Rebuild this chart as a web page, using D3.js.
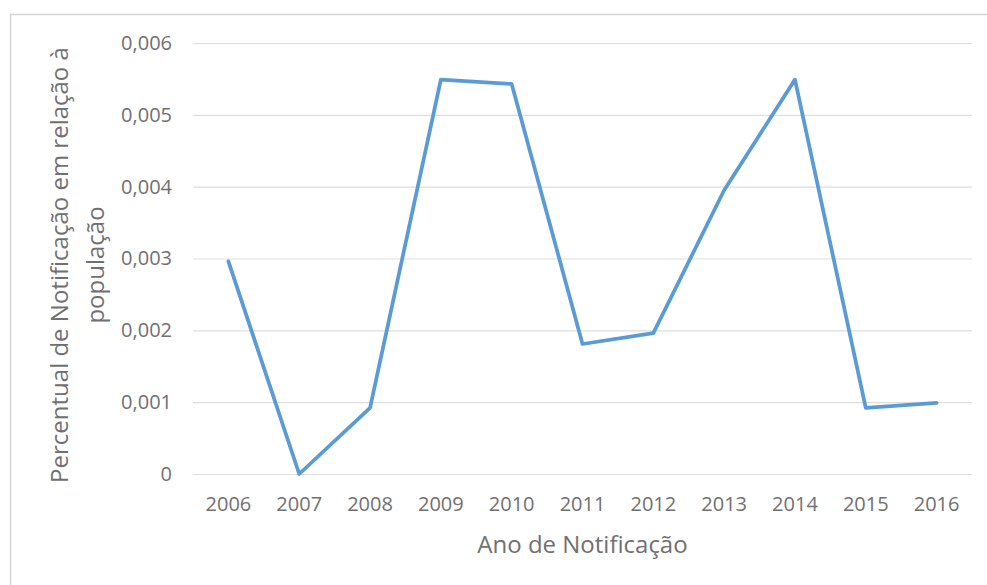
<!DOCTYPE html>
<html>
<head>
<meta charset="utf-8">
<script src="https://cdn.jsdelivr.net/npm/d3@7"></script>
<style>
  html, body { margin: 0; padding: 0; background: #fff; }
  svg { display: block; font-family: "Open Sans", "Noto Sans", sans-serif; }
</style>
</head>
<body>
<svg id="chart" width="987" height="585"></svg>
<script>
// Notification rate relative to population, by year
const years = ["2006", "2007", "2008", "2009", "2010", "2011", "2012", "2013", "2014", "2015", "2016"];
const values = [0.00296, 0.0, 0.00092, 0.00549, 0.00543, 0.00181, 0.00196, 0.00395, 0.00549, 0.00092, 0.00099];
const yTicks = [0, 0.001, 0.002, 0.003, 0.004, 0.005, 0.006];

const svg = d3.select("#chart");
const W = 987, H = 585;
const plot = { left: 193, right: 972, top: 43, bottom: 474 };
const textColor = "#707070";

// chart area frame
svg.append("rect")
  .attr("x", 10.5).attr("y", 14.5)
  .attr("width", W + 10).attr("height", H + 10)
  .attr("fill", "#fff").attr("stroke", "#d4d4d4").attr("stroke-width", 1.5);

const x = d3.scaleBand().domain(years).range([plot.left, plot.right]).padding(0);
const y = d3.scaleLinear().domain([0, 0.006]).range([plot.bottom, plot.top]);

const fmt = v => v === 0 ? "0" : d3.format(".3f")(v).replace(".", ",");

// horizontal gridlines + y labels
const yAxis = d3.axisLeft(y).tickValues(yTicks).tickFormat(fmt)
  .tickSize(-(plot.right - plot.left)).tickPadding(21);
const gy = svg.append("g").attr("transform", `translate(${plot.left},0)`).call(yAxis);
gy.select(".domain").remove();
gy.selectAll(".tick line").attr("stroke", "#dddddd").attr("stroke-width", 1.2);
gy.selectAll(".tick text").attr("fill", textColor).style("font-size", "20px")
  .attr("font-family", "Open Sans, Noto Sans, sans-serif");

// x labels
const xAxis = d3.axisBottom(x).tickSize(0).tickPadding(23);
const gx = svg.append("g").attr("transform", `translate(0,${plot.bottom})`).call(xAxis);
gx.select(".domain").remove();
gx.selectAll(".tick text").attr("fill", textColor).style("font-size", "20px")
  .attr("font-family", "Open Sans, Noto Sans, sans-serif");

// data line
const line = d3.line()
  .x((d, i) => x(years[i]) + x.bandwidth() / 2)
  .y(d => y(d));
svg.append("path")
  .datum(values)
  .attr("d", line)
  .attr("fill", "none")
  .attr("stroke", "#5b9bd5")
  .attr("stroke-width", 3.75)
  .attr("stroke-linejoin", "round")
  .attr("stroke-linecap", "round");

// axis titles
svg.append("text")
  .attr("x", (plot.left + plot.right) / 2).attr("y", 553)
  .attr("text-anchor", "middle")
  .attr("fill", textColor).style("font-size", "24px")
  .text("Ano de Notificação");

const yt = svg.append("text")
  .attr("transform", "translate(68,265) rotate(-90)")
  .attr("text-anchor", "middle")
  .attr("fill", textColor).style("font-size", "24px");
yt.append("tspan").attr("x", 0).attr("dy", 0).text("Percentual de Notificação em relação à");
yt.append("tspan").attr("x", 0).attr("dy", 36).text("população");
</script>
</body>
</html>
